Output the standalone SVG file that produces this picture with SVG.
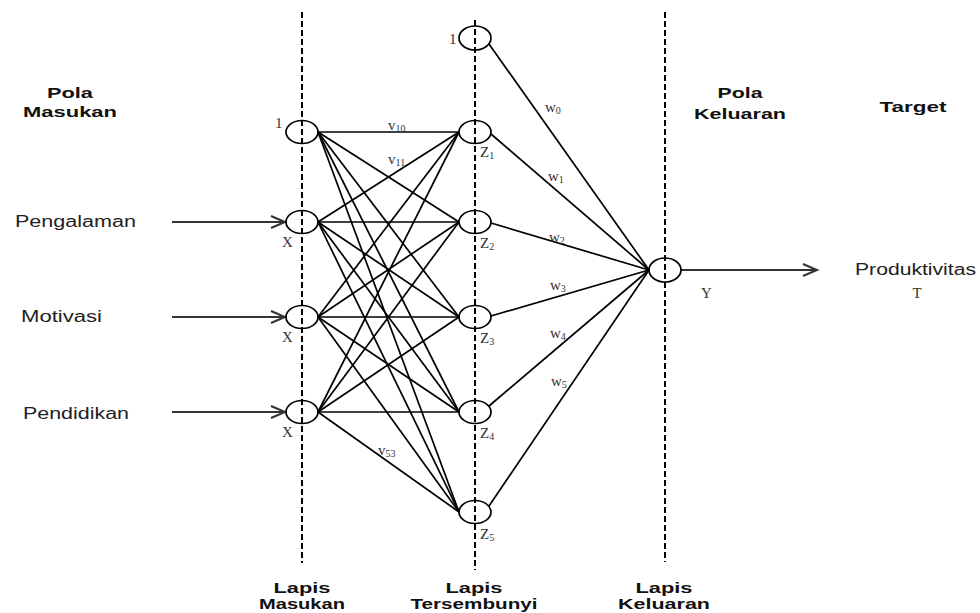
<svg xmlns="http://www.w3.org/2000/svg" width="980" height="613" viewBox="0 0 980 613">
<style>
.bg{fill:#fff}
.dash{stroke:#000;stroke-width:2;stroke-dasharray:6 3;fill:none}
.node{fill:none;stroke:#000;stroke-width:1.7}
.edge{stroke:#000;stroke-width:1.7;fill:none}
.arr{stroke:#333;stroke-width:2;fill:none}
.h{font-family:"Liberation Sans",Arial,sans-serif;font-weight:bold;font-size:15px;fill:#111;text-anchor:middle}
.t{font-family:"Liberation Sans",Arial,sans-serif;font-size:16px;fill:#222}
.s{font-family:"Liberation Serif","Times New Roman",serif;font-size:15px;fill:#333}
.sub{font-size:10px}
</style>
<defs>
<marker id="chev" markerUnits="userSpaceOnUse" markerWidth="18" markerHeight="16" refX="15" refY="7" orient="auto">
<path d="M1,1 L15,7 L1,13" fill="none" stroke="#333" stroke-width="2"/>
</marker>
</defs>
<rect class="bg" width="980" height="613"/>
<g id="layers">
<line class="dash" x1="302" y1="12" x2="302" y2="563"/>
<line class="dash" x1="475" y1="20" x2="475" y2="570"/>
<line class="dash" x1="665" y1="12" x2="665" y2="562"/>
</g>
<g id="connectors">
<line class="edge" x1="318" y1="132" x2="459" y2="132"/>
<line class="edge" x1="318" y1="132" x2="459" y2="222"/>
<line class="edge" x1="318" y1="132" x2="459" y2="317"/>
<line class="edge" x1="318" y1="132" x2="459" y2="412"/>
<line class="edge" x1="318" y1="132" x2="459" y2="512"/>
<line class="edge" x1="318" y1="222" x2="459" y2="132"/>
<line class="edge" x1="318" y1="222" x2="459" y2="222"/>
<line class="edge" x1="318" y1="222" x2="459" y2="317"/>
<line class="edge" x1="318" y1="222" x2="459" y2="412"/>
<line class="edge" x1="318" y1="222" x2="459" y2="512"/>
<line class="edge" x1="318" y1="317" x2="459" y2="132"/>
<line class="edge" x1="318" y1="317" x2="459" y2="222"/>
<line class="edge" x1="318" y1="317" x2="459" y2="317"/>
<line class="edge" x1="318" y1="317" x2="459" y2="412"/>
<line class="edge" x1="318" y1="317" x2="459" y2="512"/>
<line class="edge" x1="318" y1="412" x2="459" y2="132"/>
<line class="edge" x1="318" y1="412" x2="459" y2="222"/>
<line class="edge" x1="318" y1="412" x2="459" y2="317"/>
<line class="edge" x1="318" y1="412" x2="459" y2="412"/>
<line class="edge" x1="318" y1="412" x2="459" y2="512"/>
<line class="edge" x1="489" y1="44" x2="649" y2="270"/>
<line class="edge" x1="491" y1="134" x2="649" y2="270"/>
<line class="edge" x1="491" y1="223" x2="649" y2="270"/>
<line class="edge" x1="491" y1="316" x2="649" y2="270"/>
<line class="edge" x1="489" y1="406" x2="649" y2="270"/>
<line class="edge" x1="489" y1="506" x2="649" y2="270"/>
<line class="arr" x1="172" y1="222" x2="285" y2="222" marker-end="url(#chev)"/>
<line class="arr" x1="172" y1="317" x2="285" y2="317" marker-end="url(#chev)"/>
<line class="arr" x1="172" y1="412" x2="285" y2="412" marker-end="url(#chev)"/>
<line class="arr" x1="681" y1="270" x2="817" y2="270" marker-end="url(#chev)"/>
<text class="s" x="388" y="130">v<tspan class="sub" dy="2">10</tspan></text>
<text class="s" x="388" y="164">v<tspan class="sub" dy="2">11</tspan></text>
<text class="s" x="378" y="455">v<tspan class="sub" dy="2">53</tspan></text>
<text class="s" x="545" y="112">w<tspan class="sub" dy="2">0</tspan></text>
<text class="s" x="548" y="181">w<tspan class="sub" dy="2">1</tspan></text>
<text class="s" x="549" y="242">w<tspan class="sub" dy="2">2</tspan></text>
<text class="s" x="550" y="290">w<tspan class="sub" dy="2">3</tspan></text>
<text class="s" x="550" y="338">w<tspan class="sub" dy="2">4</tspan></text>
<text class="s" x="551" y="386">w<tspan class="sub" dy="2">5</tspan></text>
</g>
<g id="in-bias"><ellipse class="node" cx="302" cy="132" rx="16" ry="11.5"/><text class="s" x="275" y="128">1</text></g>
<g id="in-x1"><ellipse class="node" cx="302" cy="222" rx="16" ry="11.5"/><text class="s" x="282" y="247">X</text></g>
<g id="in-x2"><ellipse class="node" cx="302" cy="317" rx="16" ry="11.5"/><text class="s" x="282" y="342">X</text></g>
<g id="in-x3"><ellipse class="node" cx="302" cy="412" rx="16" ry="11.5"/><text class="s" x="282" y="437">X</text></g>
<g id="hid-bias"><ellipse class="node" cx="475" cy="38" rx="16" ry="12"/><text class="s" x="449" y="44">1</text></g>
<g id="hid-z1"><ellipse class="node" cx="475" cy="132" rx="16" ry="11.5"/><text class="s" x="480" y="157">Z<tspan class="sub" dy="2">1</tspan></text></g>
<g id="hid-z2"><ellipse class="node" cx="475" cy="222" rx="16" ry="11.5"/><text class="s" x="480" y="248">Z<tspan class="sub" dy="2">2</tspan></text></g>
<g id="hid-z3"><ellipse class="node" cx="475" cy="317" rx="16" ry="11.5"/><text class="s" x="480" y="343">Z<tspan class="sub" dy="2">3</tspan></text></g>
<g id="hid-z4"><ellipse class="node" cx="475" cy="412" rx="16" ry="11.5"/><text class="s" x="480" y="438">Z<tspan class="sub" dy="2">4</tspan></text></g>
<g id="hid-z5"><ellipse class="node" cx="475" cy="512" rx="16" ry="11.5"/><text class="s" x="480" y="539">Z<tspan class="sub" dy="2">5</tspan></text></g>
<g id="out-y"><ellipse class="node" cx="665" cy="270" rx="16" ry="12"/><text class="s" x="701" y="298">Y</text></g>
<g id="labels">
<text class="h" x="70" y="98" textLength="46" lengthAdjust="spacingAndGlyphs">Pola</text>
<text class="h" x="70" y="117" textLength="94" lengthAdjust="spacingAndGlyphs">Masukan</text>
<text class="h" x="740" y="98" textLength="45" lengthAdjust="spacingAndGlyphs">Pola</text>
<text class="h" x="740" y="119" textLength="92" lengthAdjust="spacingAndGlyphs">Keluaran</text>
<text class="h" x="913" y="112" textLength="67" lengthAdjust="spacingAndGlyphs">Target</text>
<text class="t" x="15" y="227" textLength="121" lengthAdjust="spacingAndGlyphs">Pengalaman</text>
<text class="t" x="21" y="322" textLength="81" lengthAdjust="spacingAndGlyphs">Motivasi</text>
<text class="t" x="23" y="419" textLength="106" lengthAdjust="spacingAndGlyphs">Pendidikan</text>
<text class="t" x="855" y="275" textLength="121" lengthAdjust="spacingAndGlyphs">Produktivitas</text>
<text class="s" x="917" y="298" text-anchor="middle">T</text>
<text class="h" x="302" y="593" textLength="57" lengthAdjust="spacingAndGlyphs">Lapis</text>
<text class="h" x="302" y="609" textLength="86" lengthAdjust="spacingAndGlyphs">Masukan</text>
<text class="h" x="474" y="593" textLength="57" lengthAdjust="spacingAndGlyphs">Lapis</text>
<text class="h" x="474" y="609" textLength="127" lengthAdjust="spacingAndGlyphs">Tersembunyi</text>
<text class="h" x="664" y="593" textLength="57" lengthAdjust="spacingAndGlyphs">Lapis</text>
<text class="h" x="664" y="609" textLength="92" lengthAdjust="spacingAndGlyphs">Keluaran</text>
</g>
</svg>
